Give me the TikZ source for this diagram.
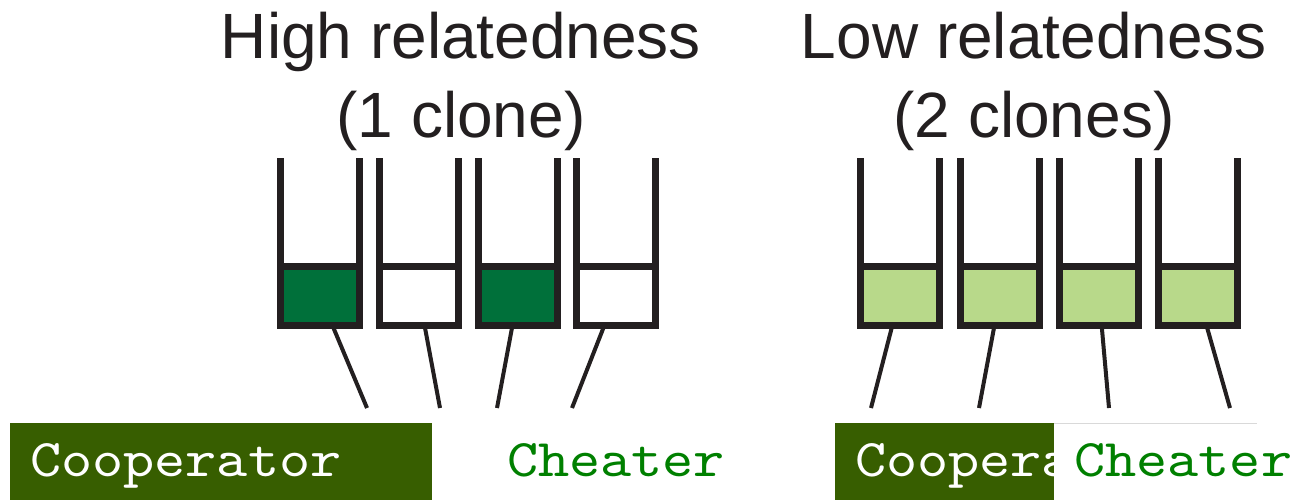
\documentclass[tikz,border=0pt]{standalone}
\usepackage{fontspec}
\setmainfont{Liberation Sans}
\newfontfamily\monofnt{lmmono10-regular.otf}[FakeStretch=1.12]
\definecolor{wallc}{HTML}{231F20}
\definecolor{darkfill}{HTML}{00703A}
\definecolor{lightfill}{HTML}{B8D98A}
\definecolor{labelbg}{HTML}{375E00}
\definecolor{cheatc}{HTML}{008000}
\begin{document}
\begin{tikzpicture}[x=1pt,y=-1pt,
  tubebox/.style={draw=wallc,line width=7pt,outer sep=0pt,inner sep=0pt,
    minimum width=79.5pt,minimum height=59.5pt,line join=miter},
  wall/.style={draw=wallc,line width=7pt,line cap=butt},
  link/.style={draw=wallc,line width=4pt},
  titletxt/.style={font=\fontsize{64}{76}\selectfont,text=wallc,inner sep=0pt,anchor=base},
  labelnode/.style={anchor=north west,inner xsep=20pt,inner ysep=10pt,outer sep=0pt,
    text height=43pt,text depth=14pt,align=left,font=\monofnt\fontsize{53}{60}\selectfont},
  coop/.style={labelnode,fill=labelbg,text=white},
  cheat/.style={labelnode,fill=white,text=cheatc}
]
\useasboundingbox (0,0) rectangle (1305,500);

% titles
\node[titletxt] (h1) at (461,59) {High relatedness};
\node[titletxt] (h2) at (461,137) {(1 clone)};
\node[titletxt] (l1) at (1034,59) {Low relatedness};
\node[titletxt] (l2) at (1034,137) {(2 clones)};

% free ends of connectors
\coordinate (e1) at (367,408);
\coordinate (e2) at (440,408);
\coordinate (e3) at (497,408);
\coordinate (e4) at (572,408);
\coordinate (e5) at (871,408);
\coordinate (e6) at (979,408);
\coordinate (e7) at (1109,408);
\coordinate (e8) at (1230,408);

% tube positions
\coordinate (p1) at (320,295.75);
\coordinate (p2) at (419,295.75);
\coordinate (p3) at (518,295.75);
\coordinate (p4) at (616,295.75);
\coordinate (p5) at (900,295.75);
\coordinate (p6) at (1000,295.75);
\coordinate (p7) at (1099,295.75);
\coordinate (p8) at (1198,295.75);

% connectors (behind the tubes)
\foreach \i in {1,...,8}{
  \draw[link] (p\i) -- (e\i);
}

% tubes (liquid part as node)
\node[tubebox,fill=darkfill] (t1) at (p1) {};
\node[tubebox,fill=white]    (t2) at (p2) {};
\node[tubebox,fill=darkfill] (t3) at (p3) {};
\node[tubebox,fill=white]    (t4) at (p4) {};
\node[tubebox,fill=lightfill] (t5) at (p5) {};
\node[tubebox,fill=lightfill] (t6) at (p6) {};
\node[tubebox,fill=lightfill] (t7) at (p7) {};
\node[tubebox,fill=lightfill] (t8) at (p8) {};

\foreach \t in {t1,t2,t3,t4,t5,t6,t7,t8}{
  \draw[wall] ([yshift=3.5pt]\t.north west) -- ++(0,-104.5);
  \draw[wall] ([yshift=3.5pt]\t.north east) -- ++(0,-104.5);
}

% labels
\node[coop,text width=382pt] (c1) at (10,423) {Cooperator};
\node[cheat,text width=200pt] (ch1) at (487,423) {Cheater};
\node[coop,text width=179pt] (c2) at (835,423) {Cooperator};
\node[cheat,text width=163pt] (ch2) at (1054,423) {Cheater};
\draw[draw=black!15,line width=1pt] (c2.north east) -- (ch2.north east);
\end{tikzpicture}
\end{document}
